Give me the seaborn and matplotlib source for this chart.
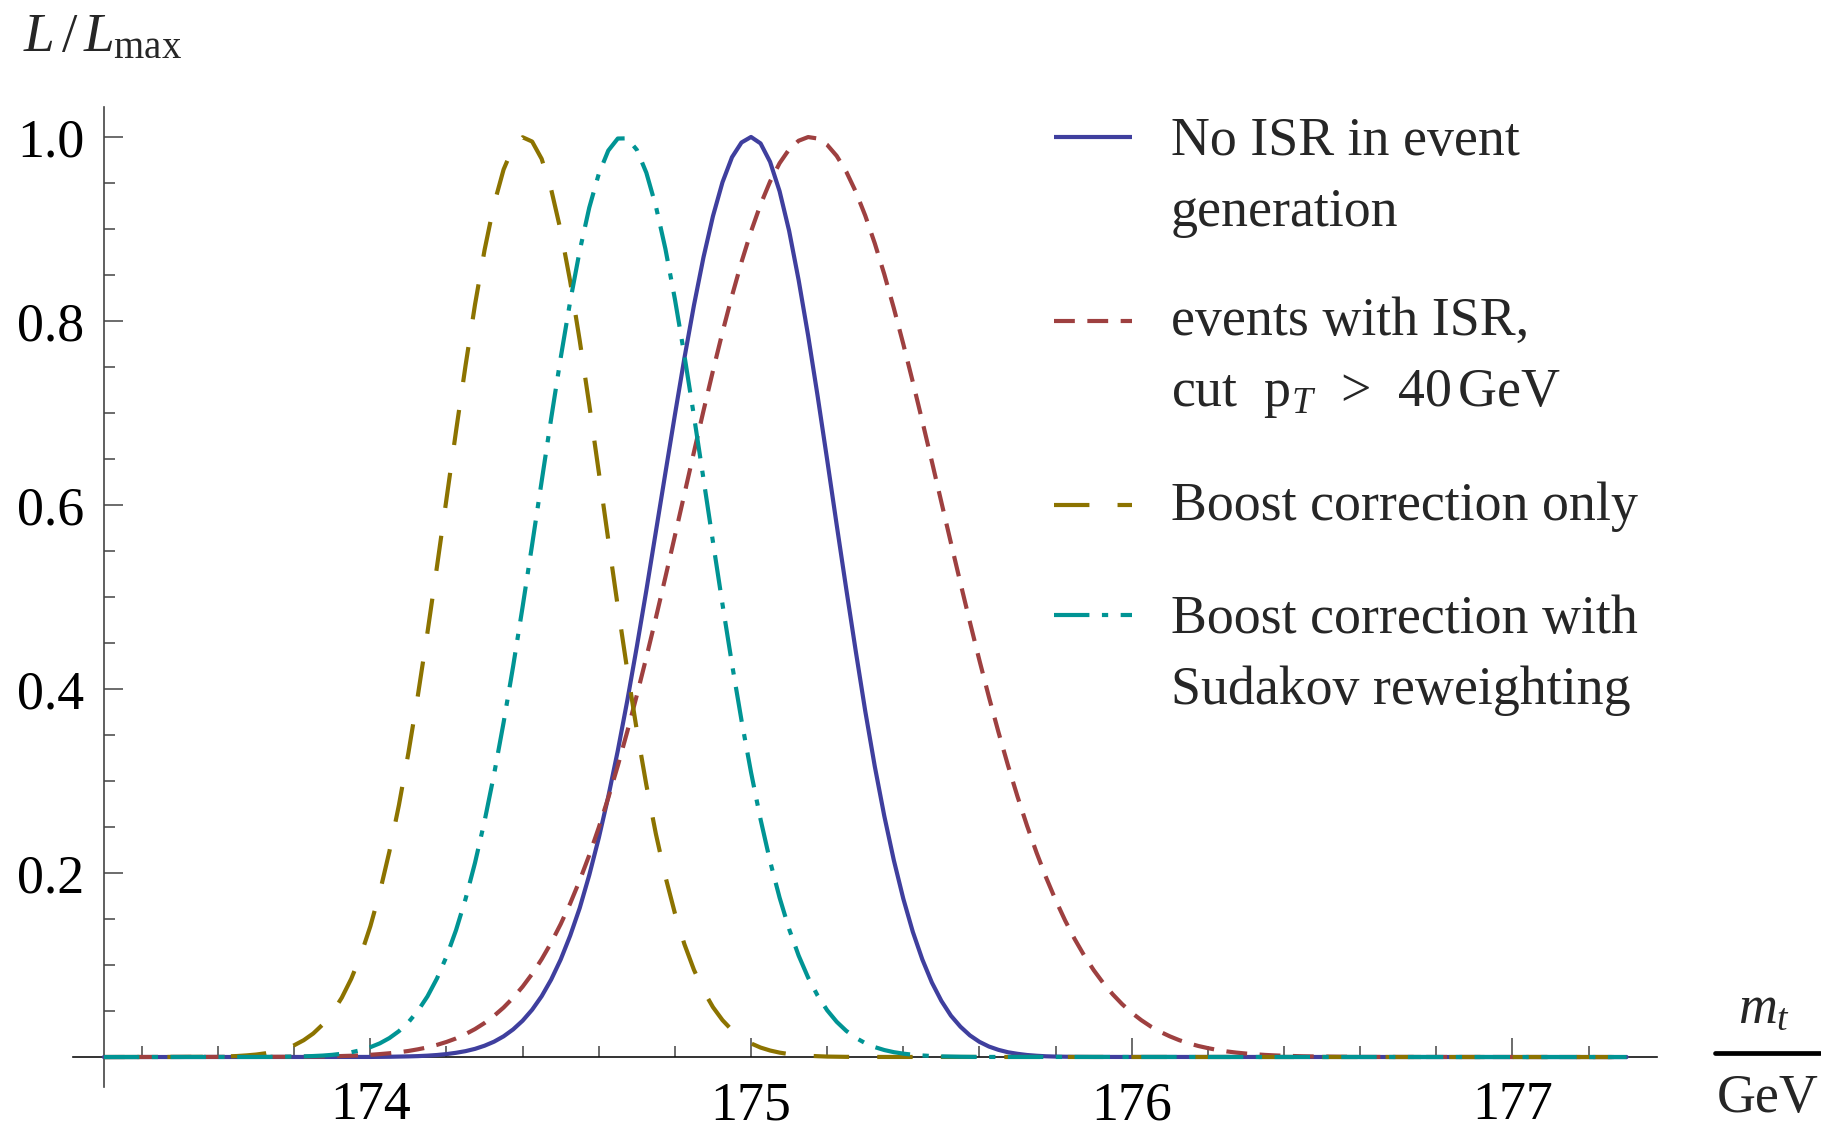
import numpy as np
import pandas as pd
import matplotlib
matplotlib.use("Agg")
import matplotlib.pyplot as plt
from matplotlib.lines import Line2D
from matplotlib.ticker import FixedLocator, NullFormatter
import seaborn as sns

# ---------------------------------------------------------------------------
# Likelihood curves L/L_max versus the top-quark mass m_t (GeV)
# ---------------------------------------------------------------------------
series_names = [
    "No ISR in event generation",
    "events with ISR, cut pT > 40 GeV",
    "Boost correction only",
    "Boost correction with Sudakov reweighting",
]

# No ISR in event generation
mt_noisr = [173.30, 174.00, 174.05, 174.10, 174.125, 174.15, 174.175, 174.20, 174.225,
            174.25, 174.275, 174.30, 174.325, 174.35, 174.375, 174.40, 174.425, 174.45,
            174.475, 174.50, 174.525, 174.55, 174.575, 174.60, 174.625, 174.65, 174.675,
            174.70, 174.725, 174.75, 174.775, 174.80, 174.825, 174.85, 174.875, 174.90,
            174.925, 174.95, 174.975, 175.00, 175.025, 175.05, 175.075, 175.10, 175.125,
            175.15, 175.175, 175.20, 175.225, 175.25, 175.275, 175.30, 175.325, 175.35,
            175.375, 175.40, 175.425, 175.45, 175.475, 175.50, 175.525, 175.55, 175.575,
            175.60, 175.625, 175.65, 175.675, 175.70, 175.725, 175.75, 175.775, 175.80,
            175.85, 175.90, 177.30]
L_noisr = [0.0, 0.0001, 0.0003, 0.0007, 0.0010, 0.0015, 0.0022, 0.0032, 0.0046,
           0.0064, 0.0089, 0.0123, 0.0167, 0.0225, 0.0300, 0.0395, 0.0514, 0.0661,
           0.0842, 0.106, 0.132, 0.162, 0.1977, 0.238, 0.283, 0.333, 0.3875,
           0.446, 0.5072, 0.571, 0.6348, 0.698, 0.7597, 0.817, 0.8691, 0.914,
           0.9508, 0.978, 0.994, 1.0, 0.993, 0.973, 0.941, 0.898, 0.8445,
           0.784, 0.7181, 0.649, 0.5783, 0.509, 0.4413, 0.376, 0.316, 0.262,
           0.214, 0.172, 0.136, 0.106, 0.081, 0.061, 0.045, 0.033, 0.0235,
           0.0165, 0.0114, 0.0078, 0.0052, 0.0035, 0.0022, 0.0014, 0.0008, 0.0005,
           0.0002, 0.0001, 0.0]

# events with ISR, pT cut
mt_isr = [173.30, 173.80, 173.85, 173.875, 173.90, 173.925, 173.95, 173.975, 174.00,
          174.025, 174.05, 174.075, 174.10, 174.125, 174.15, 174.175, 174.20, 174.225,
          174.25, 174.275, 174.30, 174.325, 174.35, 174.375, 174.40, 174.425, 174.45,
          174.475, 174.50, 174.525, 174.55, 174.575, 174.60, 174.625, 174.65, 174.675,
          174.70, 174.725, 174.75, 174.775, 174.80, 174.825, 174.85, 174.875, 174.90,
          174.925, 174.95, 174.975, 175.00, 175.025, 175.05, 175.075, 175.10, 175.125,
          175.15, 175.175, 175.20, 175.225, 175.25, 175.275, 175.30, 175.325, 175.35,
          175.375, 175.40, 175.425, 175.45, 175.475, 175.50, 175.525, 175.55, 175.575,
          175.60, 175.625, 175.65, 175.675, 175.70, 175.725, 175.75, 175.775, 175.80,
          175.825, 175.85, 175.875, 175.90, 175.925, 175.95, 175.975, 176.00, 176.025,
          176.05, 176.075, 176.10, 176.125, 176.15, 176.175, 176.20, 176.225, 176.25,
          176.275, 176.30, 176.325, 176.35, 176.375, 176.40, 176.45, 176.50, 176.55,
          176.60, 177.30]
L_isr = [0.0, 0.0003, 0.0005, 0.0006, 0.0008, 0.0011, 0.0014, 0.0019, 0.0024,
         0.0032, 0.0041, 0.0052, 0.0066, 0.0084, 0.0105, 0.0132, 0.0164, 0.0202,
         0.0249, 0.0304, 0.0370, 0.0448, 0.0538, 0.0644, 0.0765, 0.0904, 0.1063,
         0.1243, 0.1445, 0.1670, 0.1920, 0.2194, 0.2494, 0.2818, 0.3166, 0.3539,
         0.3932, 0.4344, 0.4773, 0.5215, 0.5665, 0.6120, 0.6575, 0.7022, 0.7459,
         0.7878, 0.8274, 0.8641, 0.8973, 0.9266, 0.9515, 0.9715, 0.9865, 0.9959,
         0.9999, 0.9983, 0.9914, 0.9794, 0.9624, 0.9406, 0.9145, 0.8844, 0.8508,
         0.8140, 0.7748, 0.7336, 0.6909, 0.6472, 0.6030, 0.5589, 0.5153, 0.4725,
         0.4310, 0.3911, 0.3530, 0.3169, 0.2830, 0.2514, 0.2221, 0.1952, 0.1707,
         0.1484, 0.1283, 0.1104, 0.0945, 0.0805, 0.0682, 0.0574, 0.0481, 0.0401,
         0.0332, 0.0274, 0.0225, 0.0183, 0.0149, 0.0120, 0.0097, 0.0077, 0.0061,
         0.0048, 0.0038, 0.0030, 0.0023, 0.0018, 0.0014, 0.0008, 0.0005, 0.0003,
         0.0001, 0.0]

# Boost correction only
mt_boost = [173.30, 173.50, 173.55, 173.60, 173.625, 173.65, 173.675, 173.70, 173.725,
            173.75, 173.775, 173.80, 173.825, 173.85, 173.875, 173.90, 173.925, 173.95,
            173.975, 174.00, 174.025, 174.05, 174.075, 174.10, 174.125, 174.15, 174.175,
            174.20, 174.225, 174.25, 174.275, 174.30, 174.325, 174.35, 174.375, 174.40,
            174.425, 174.45, 174.475, 174.50, 174.525, 174.55, 174.575, 174.60, 174.625,
            174.65, 174.675, 174.70, 174.725, 174.75, 174.775, 174.80, 174.825, 174.85,
            174.875, 174.90, 174.925, 174.95, 174.975, 175.00, 175.025, 175.05, 175.075,
            175.10, 175.125, 175.15, 175.175, 175.20, 175.25, 175.30, 177.30]
L_boost = [0.0, 0.0001, 0.0002, 0.0004, 0.0007, 0.0011, 0.0018, 0.0027, 0.0041,
           0.0061, 0.0089, 0.0128, 0.0183, 0.0256, 0.0354, 0.0481, 0.0645, 0.0852,
           0.1108, 0.1421, 0.1794, 0.2233, 0.2737, 0.3306, 0.3934, 0.4613, 0.5330,
           0.6065, 0.6801, 0.7514, 0.818, 0.8771, 0.927, 0.9646, 0.989, 0.9997,
           0.995, 0.9762, 0.943, 0.8982, 0.843, 0.7787, 0.7091, 0.6361, 0.5622,
           0.4896, 0.4201, 0.3551, 0.2957, 0.2426, 0.1962, 0.1563, 0.1226, 0.0948,
           0.0722, 0.0542, 0.0401, 0.0292, 0.0210, 0.0148, 0.0103, 0.0071, 0.0048,
           0.0032, 0.0021, 0.0014, 0.0009, 0.0005, 0.0002, 0.0001, 0.0]

# Boost correction with Sudakov reweighting
mt_sudakov = [173.30, 173.70, 173.75, 173.80, 173.825, 173.85, 173.875, 173.90, 173.925,
              173.95, 173.975, 174.00, 174.025, 174.05, 174.075, 174.10, 174.125, 174.15,
              174.175, 174.20, 174.225, 174.25, 174.275, 174.30, 174.325, 174.35, 174.375,
              174.40, 174.425, 174.45, 174.475, 174.50, 174.525, 174.55, 174.575, 174.60,
              174.625, 174.65, 174.675, 174.70, 174.725, 174.75, 174.775, 174.80, 174.825,
              174.85, 174.875, 174.90, 174.925, 174.95, 174.975, 175.00, 175.025, 175.05,
              175.075, 175.10, 175.125, 175.15, 175.175, 175.20, 175.225, 175.25, 175.275,
              175.30, 175.325, 175.35, 175.375, 175.40, 175.425, 175.45, 175.475, 175.50,
              175.55, 175.60, 177.30]
L_sudakov = [0.0, 0.0001, 0.0002, 0.0005, 0.0007, 0.0011, 0.0016, 0.0024, 0.0036,
             0.0052, 0.0075, 0.0107, 0.0149, 0.0206, 0.0281, 0.0378, 0.0503, 0.0659,
             0.0854, 0.1092, 0.1378, 0.1717, 0.2112, 0.2564, 0.3073, 0.3635, 0.4245,
             0.4894, 0.5570, 0.6258, 0.6941, 0.7600, 0.8214, 0.8764, 0.9231, 0.9598,
             0.9852, 0.9983, 0.9985, 0.9860, 0.9611, 0.9248, 0.8785, 0.8237, 0.7625,
             0.6968, 0.6286, 0.5598, 0.4921, 0.4270, 0.3658, 0.3094, 0.2583, 0.2128,
             0.1732, 0.1391, 0.1103, 0.0863, 0.0667, 0.0508, 0.0383, 0.0285, 0.0209,
             0.0151, 0.0108, 0.0076, 0.0053, 0.0037, 0.0025, 0.0017, 0.0011, 0.0007,
             0.0003, 0.0001, 0.0]

x_major = [174, 175, 176, 177]
x_minor = [173.4, 173.6, 173.8, 174.2, 174.4, 174.6, 174.8, 175.2, 175.4, 175.6,
           175.8, 176.2, 176.4, 176.6, 176.8, 177.2, 177.4]
y_major = [0.2, 0.4, 0.6, 0.8, 1.0]
y_major_labels = ["0.2", "0.4", "0.6", "0.8", "1.0"]
y_minor = [0.0, 0.05, 0.1, 0.15, 0.25, 0.3, 0.35, 0.45, 0.5, 0.55, 0.65, 0.7, 0.75,
           0.85, 0.9, 0.95]

legend_text = [
    ["No ISR in event", "generation"],
    ["events with ISR,", r"cut  $\mathrm{p}_{T}$  >  40$\,$GeV"],
    ["Boost correction only"],
    ["Boost correction with", "Sudakov reweighting"],
]

colors = ["#3f3f9e", "#9e4040", "#8c7300", "#009494"]
dash_styles = ["", (5.0, 3.0), (8.5, 6.75), (8.5, 3.0, 1.5, 3.0)]

# ---------------------------------------------------------------------------
sns.set_theme(style="white")
plt.rcParams.update({
    "font.family": ["Liberation Serif", "DejaVu Serif"],
    "mathtext.fontset": "custom",
    "mathtext.rm": "Liberation Serif",
    "mathtext.it": "Liberation Serif:italic",
    "mathtext.bf": "Liberation Serif:bold",
    "lines.scale_dashes": True,
})

FS = 38.8
LW = 3.0
W, H = 1821, 1128


def fx(px):
    return px / W


def fy(py):
    return 1 - py / H


frames = []
for name, xs, ys in zip(series_names,
                        [mt_noisr, mt_isr, mt_boost, mt_sudakov],
                        [L_noisr, L_isr, L_boost, L_sudakov]):
    frames.append(pd.DataFrame({"mt": xs, "L": ys, "series": name}))
df = pd.concat(frames, ignore_index=True)

fig = plt.figure(figsize=(W / 100, H / 100), dpi=100)
fig.patch.set_facecolor("white")
ax = fig.add_axes([fx(73.4), fy(1087.4), 1583.7 / W, 980.8 / H])
ax.set_facecolor("white")

sns.lineplot(
    data=df, x="mt", y="L", hue="series", style="series",
    hue_order=series_names, style_order=series_names,
    palette=dict(zip(series_names, colors)),
    dashes=dict(zip(series_names, dash_styles)),
    estimator=None, errorbar=None, sort=False,
    linewidth=LW, legend=False, ax=ax,
)
for ln in ax.get_lines():
    ln.set_zorder(3)
    ln.set_dash_capstyle("butt")

ax.set_xlim(173.22, 177.38)
ax.set_ylim(-0.033, 1.033)
ax.set_xlabel("")
ax.set_ylabel("")

# axes crossing at (173.3, 0)
for side in ("top", "right"):
    ax.spines[side].set_visible(False)
ax.spines["left"].set_position(("data", 173.3))
ax.spines["bottom"].set_position(("data", 0.0))
ax.spines["left"].set_color("#444444")
ax.spines["bottom"].set_color("#111111")
for side in ("left", "bottom"):
    ax.spines[side].set_linewidth(1.2)
    ax.spines[side].set_zorder(1)

ax.xaxis.set_major_locator(FixedLocator(x_major))
ax.xaxis.set_minor_locator(FixedLocator(x_minor))
ax.set_xticklabels([str(v) for v in x_major])
ax.yaxis.set_major_locator(FixedLocator(y_major))
ax.yaxis.set_minor_locator(FixedLocator(y_minor))
ax.set_yticklabels(y_major_labels)
ax.yaxis.set_minor_formatter(NullFormatter())
ax.xaxis.set_minor_formatter(NullFormatter())

ax.tick_params(which="both", direction="in", bottom=True, left=True, top=False, right=False,
               width=1.1, color="#444444", labelsize=FS, labelcolor="black")
ax.tick_params(which="major", length=13.5)
ax.tick_params(which="minor", length=8.0)
ax.tick_params(axis="x", which="major", pad=17)
ax.tick_params(axis="y", which="major", pad=14)
ax.set_axisbelow(True)

# y-axis label at top left
fig.text(fx(22.7), fy(50.7), r"$L\,/\,L_{\mathrm{max}}$", fontsize=FS + 1,
         ha="left", va="baseline")

# x-axis label as a fraction m_t / GeV at the right end
fig.text(fx(1764), fy(1023), r"$m_t$", fontsize=FS, ha="center", va="baseline")
fig.add_artist(Line2D([fx(1715), fx(1820)], [fy(1052.5), fy(1052.5)],
                      transform=fig.transFigure, color="black", lw=3.4))
fig.text(fx(1768), fy(1112), "GeV", fontsize=FS, ha="center", va="baseline")

# legend: key aligned with the first text line of each entry
key_y = [137, 321, 505, 615]
first_baseline = [155, 335, 520, 633]
line_step = 71
for i, name in enumerate(series_names):
    key = Line2D([fx(1054), fx(1132)], [fy(key_y[i]), fy(key_y[i])],
                 transform=fig.transFigure, color=colors[i], lw=LW,
                 solid_capstyle="butt", dash_capstyle="butt")
    if dash_styles[i]:
        key.set_dashes(dash_styles[i])
    fig.add_artist(key)
    for j, txt in enumerate(legend_text[i]):
        fig.text(fx(1171), fy(first_baseline[i] + j * line_step), txt,
                 fontsize=FS, ha="left", va="baseline")

fig.savefig("out.png", dpi=100, facecolor="white")
